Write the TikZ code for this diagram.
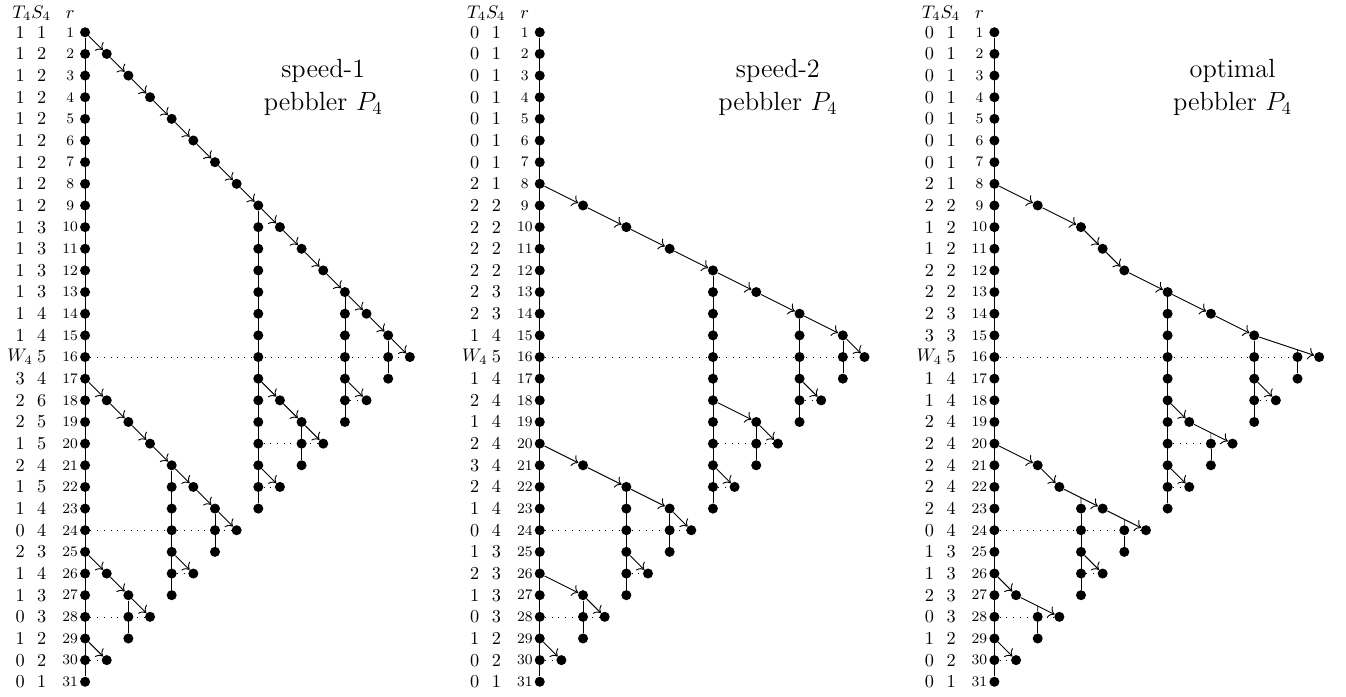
\documentclass[tikz,border=0pt]{standalone}
\usepackage{tikz}
\usepackage{amsmath, amssymb}
\usetikzlibrary{calc}
\usetikzlibrary{arrows.meta}

\begin{document}
\begin{tikzpicture}[x=0.5cm, y=-0.5cm, every node/.style={inner sep=0pt}]
		\tikzstyle{pebble}=[circle, fill=black, minimum size=6.6pt, inner sep=0pt]
		\tikzstyle{lab}=[scale=1.2]
		\tikzstyle{rlabel}=[scale=1.2, font=\footnotesize]
		\tikzstyle{title}=[scale=1.2, align=center, font=\Large]
		\tikzstyle{move}=[->, semithick]
		\tikzstyle{hold}=[thin]
		\tikzstyle{level}=[loosely dotted, thin]
		\tikzset{>={To[scale=1.3]}}
		\useasboundingbox (-3.93,-0.49) rectangle (58.24,31.70);

		% speed-1 pebbler
		\begin{scope}[name prefix=a-]
		\foreach \tv/\sv [count=\r] in {1/1, 1/2, 1/2, 1/2, 1/2, 1/2, 1/2, 1/2, 1/2, 1/3, 1/3, 1/3, 1/3, 1/4, 1/4, W_4/5, 3/4, 2/6, 2/5, 1/5, 2/4, 1/5, 1/4, 0/4, 2/3, 1/4, 1/3, 0/3, 1/2, 0/2, 0/1} {
			\node[lab] (t\r) at (-3,\r) {$\tv$};
			\node[lab] (s\r) at (-2,\r) {$\sv$};
			\node[rlabel] (r\r) at (-0.69,\r) {\r};
		}
		\node[lab, anchor=base] (head) at (-2.47,0.35) {$T_4S_4$};
		\node[lab, anchor=base] (headr) at (-0.69,0.35) {$r$};
		\node[title] (name) at (11,3.55) {speed-1\\pebbler $P_4$};

		\foreach \c/\a/\b in {0/1/31, 8/9/23, 12/13/19, 14/15/17, 10/19/21, 4/21/27, 6/23/25, 2/27/29} {
			\foreach \r in {\a,...,\b} \node[pebble] (p\c-\r) at (\c,\r) {};
			\draw[hold] (p\c-\a) -- (p\c-\b);
		}
		\foreach \c/\r in {1/2, 2/3, 3/4, 4/5, 5/6, 6/7, 7/8, 9/10, 10/11, 11/12, 13/14, 15/16, 13/18, 9/18, 11/20, 9/22, 1/18, 2/19, 3/20, 5/22, 7/24, 5/26, 1/26, 3/28, 1/30}
			\node[pebble] (p\c-\r) at (\c,\r) {};
		\foreach \c/\r/\d/\s in {0/1/1/2, 1/2/2/3, 2/3/3/4, 3/4/4/5, 4/5/5/6, 5/6/6/7, 6/7/7/8, 7/8/8/9, 8/9/9/10, 9/10/10/11, 10/11/11/12, 11/12/12/13, 12/13/13/14, 13/14/14/15, 14/15/15/16, 12/17/13/18, 8/17/9/18, 9/18/10/19, 10/19/11/20, 8/21/9/22, 0/17/1/18, 1/18/2/19, 2/19/3/20, 3/20/4/21, 4/21/5/22, 5/22/6/23, 6/23/7/24, 4/25/5/26, 0/25/1/26, 1/26/2/27, 2/27/3/28, 0/29/1/30}
			\draw[move] (p\c-\r) -- (p\d-\s);
		\foreach \r/\c/\d in {16/0/15, 24/0/7, 28/0/3, 30/0/1, 20/8/11, 22/8/9, 18/12/13, 26/4/5}
			\draw[level] (p\c-\r) -- (p\d-\r);
		\end{scope}

		% speed-2 pebbler
		\begin{scope}[xshift=10.5cm, name prefix=b-]
		\foreach \tv/\sv [count=\r] in {0/1, 0/1, 0/1, 0/1, 0/1, 0/1, 0/1, 2/1, 2/2, 2/2, 2/2, 2/2, 2/3, 2/3, 1/4, W_4/5, 1/4, 2/4, 1/4, 2/4, 3/4, 2/4, 1/4, 0/4, 1/3, 2/3, 1/3, 0/3, 1/2, 0/2, 0/1} {
			\node[lab] (t\r) at (-3,\r) {$\tv$};
			\node[lab] (s\r) at (-2,\r) {$\sv$};
			\node[rlabel] (r\r) at (-0.69,\r) {\r};
		}
		\node[lab, anchor=base] (head) at (-2.47,0.35) {$T_4S_4$};
		\node[lab, anchor=base] (headr) at (-0.69,0.35) {$r$};
		\node[title] (name) at (11,3.55) {speed-2\\pebbler $P_4$};

		\foreach \c/\a/\b in {0/1/31, 8/12/23, 12/14/19, 14/15/17, 10/19/21, 4/22/27, 6/23/25, 2/27/29} {
			\foreach \r in {\a,...,\b} \node[pebble] (p\c-\r) at (\c,\r) {};
			\draw[hold] (p\c-\a) -- (p\c-\b);
		}
		\foreach \c/\r in {2/9, 4/10, 6/11, 10/13, 15/16, 13/18, 11/20, 9/22, 2/21, 7/24, 5/26, 3/28, 1/30}
			\node[pebble] (p\c-\r) at (\c,\r) {};
		\foreach \c/\r/\d/\s in {0/8/2/9, 2/9/4/10, 4/10/6/11, 6/11/8/12, 8/12/10/13, 10/13/12/14, 12/14/14/15, 14/15/15/16, 12/17/13/18, 8/18/10/19, 10/19/11/20, 8/21/9/22, 0/20/2/21, 2/21/4/22, 4/22/6/23, 6/23/7/24, 4/25/5/26, 0/26/2/27, 2/27/3/28, 0/29/1/30}
			\draw[move] (p\c-\r) -- (p\d-\s);
		\foreach \r/\c/\d in {16/0/15, 24/0/7, 28/0/3, 30/0/1, 20/8/11, 22/8/9, 18/12/13, 26/4/5}
			\draw[level] (p\c-\r) -- (p\d-\r);
		\end{scope}

		% optimal pebbler
		\begin{scope}[xshift=21cm, name prefix=c-]
		\foreach \tv/\sv [count=\r] in {0/1, 0/1, 0/1, 0/1, 0/1, 0/1, 0/1, 2/1, 2/2, 1/2, 1/2, 2/2, 2/2, 2/3, 3/3, W_4/5, 1/4, 1/4, 2/4, 2/4, 2/4, 2/4, 2/4, 0/4, 1/3, 1/3, 2/3, 0/3, 1/2, 0/2, 0/1} {
			\node[lab] (t\r) at (-3,\r) {$\tv$};
			\node[lab] (s\r) at (-2,\r) {$\sv$};
			\node[rlabel] (r\r) at (-0.69,\r) {\r};
		}
		\node[lab, anchor=base] (head) at (-2.47,0.35) {$T_4S_4$};
		\node[lab, anchor=base] (headr) at (-0.69,0.35) {$r$};
		\node[title] (name) at (11,3.55) {optimal\\pebbler $P_4$};

		\foreach \c/\a/\b in {0/1/31, 8/13/23, 12/15/19, 14/16/17, 10/20/21, 4/23/27, 6/24/25, 2/28/29} {
			\foreach \r in {\a,...,\b} \node[pebble] (p\c-\r) at (\c,\r) {};
			\draw[hold] (p\c-\a) -- (p\c-\b);
		}
		\foreach \c/\r in {2/9, 4/10, 5/11, 6/12, 10/14, 15/16, 13/18, 9/19, 11/20, 9/22, 2/21, 3/22, 5/23, 7/24, 5/26, 1/27, 3/28, 1/30}
			\node[pebble] (p\c-\r) at (\c,\r) {};
		\foreach \c/\r/\d/\s in {0/8/2/9, 2/9/4/10, 4/10/5/11, 5/11/6/12, 6/12/8/13, 8/13/10/14, 10/14/12/15, 12/15/15/16, 12/17/13/18, 8/18/9/19, 9/19/11/20, 8/21/9/22, 0/20/2/21, 2/21/3/22, 3/22/5/23, 5/23/7/24, 4/25/5/26, 0/26/1/27, 1/27/3/28, 0/29/1/30}
			\draw[move] (p\c-\r) -- (p\d-\s);
		\foreach \r/\c/\d in {16/0/15, 24/0/7, 28/0/3, 30/0/1, 20/8/11, 22/8/9, 18/12/13, 26/4/5}
			\draw[level] (p\c-\r) -- (p\d-\r);
		% late spines start on a move
		\foreach \a/\b/\c/\d/\e/\f/\w in {12/15/15/16/14/16/0.6667, 9/19/11/20/10/20/0.5, 3/22/5/23/4/23/0.5, 5/23/7/24/6/24/0.5, 1/27/3/28/2/28/0.5} {
			\coordinate (k\e-\f) at ($(p\a-\b)!\w!(p\c-\d)$);
			\draw[hold] (k\e-\f) -- (p\e-\f);
		}
		\end{scope}
	\end{tikzpicture}
\end{document}
